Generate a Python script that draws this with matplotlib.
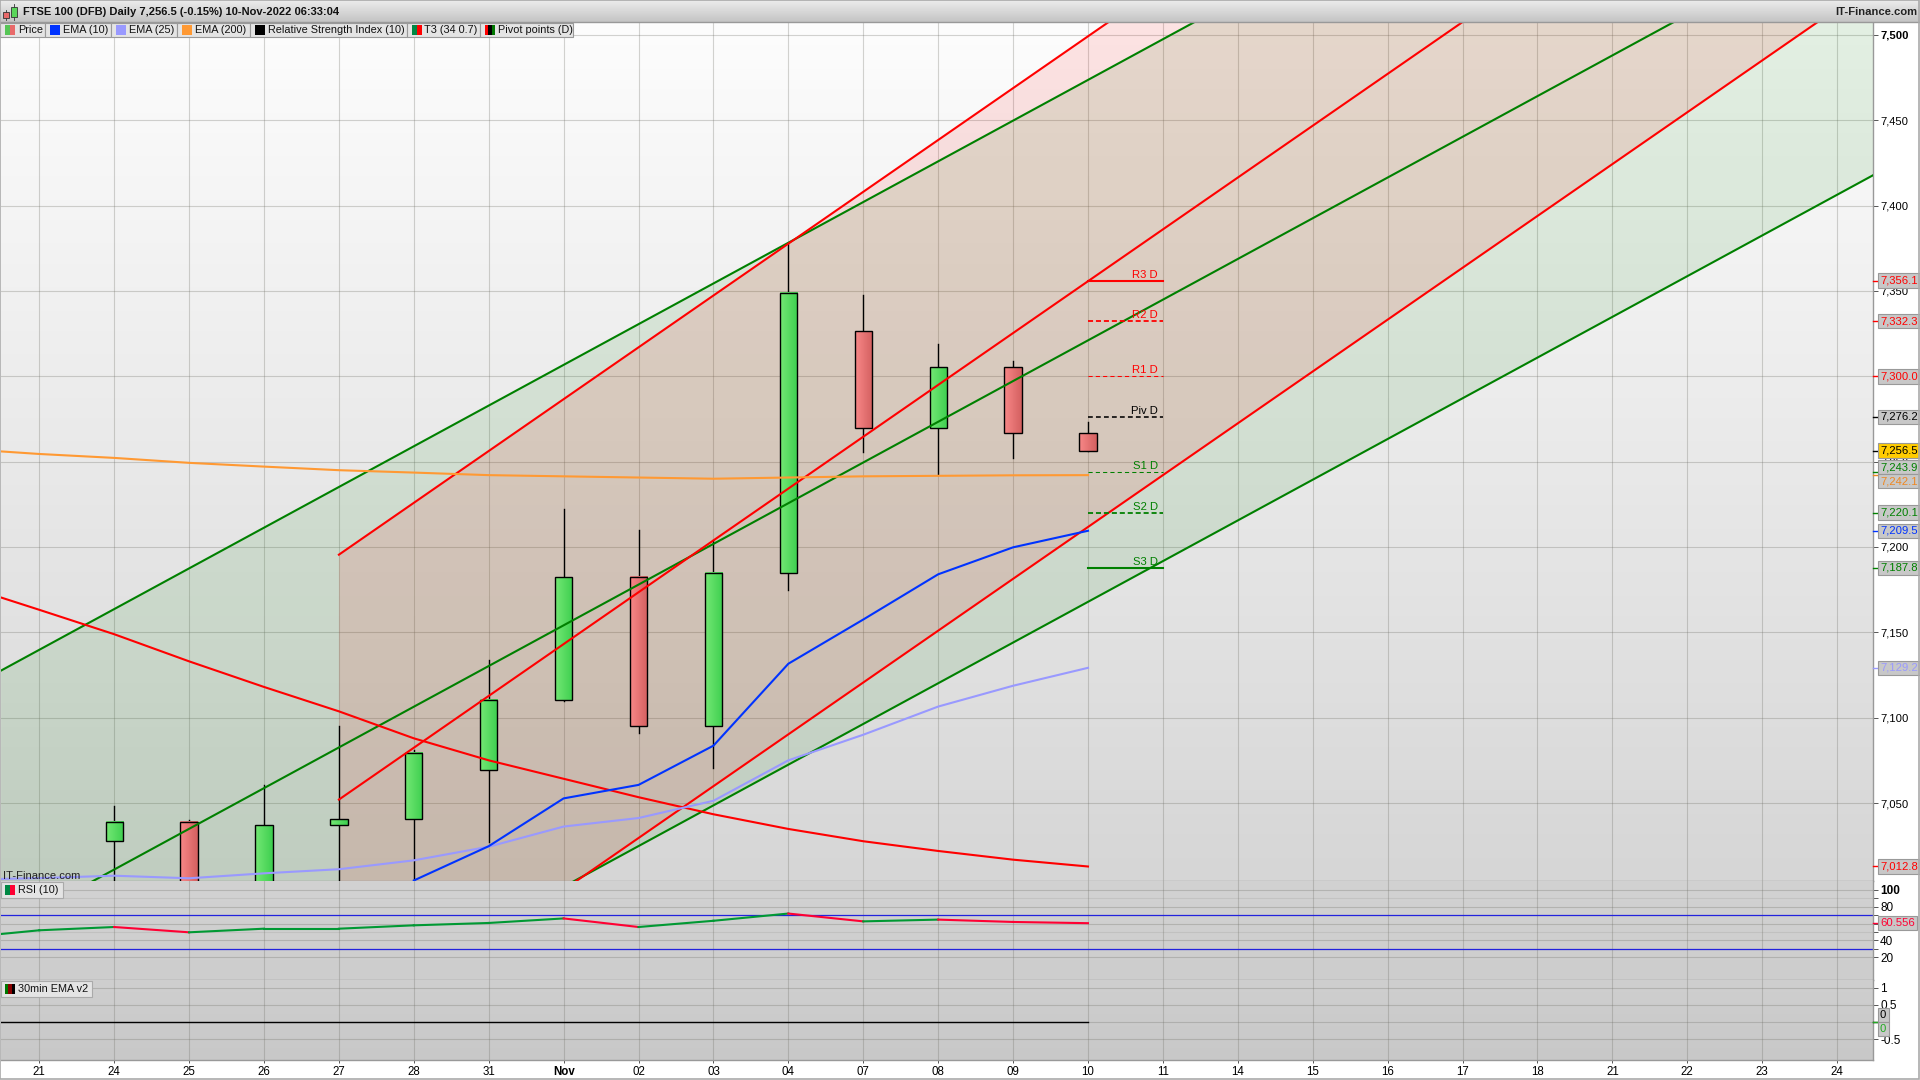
import numpy as np
import matplotlib
matplotlib.use("Agg")
import matplotlib.pyplot as plt
from matplotlib.colors import LinearSegmentedColormap
from matplotlib.patches import Rectangle

plt.rcParams['font.family'] = ['Liberation Sans', 'DejaVu Sans']

# Dates on the x axis
dates = ['21', '24', '25', '26', '27', '28', '31', 'Nov', '02', '03', '04', '07', '08', '09', '10',
         '11', '14', '15', '16', '17', '18', '21', '22', '23', '24']

# Candles (first candle is the "24" slot)
candle_idx = list(range(1, 15))
opens = [7027.7, 7039.0, 6995.0, 7037.0, 7040.5, 7069.3, 7110.4, 7182.4, 7095.0, 7184.8, 7326.8, 7270.0, 7305.3, 7267.0]
closes = [7038.9, 6995.0, 7037.1, 7040.5, 7079.3, 7110.4, 7182.4, 7095.0, 7184.8, 7349.0, 7270.0, 7305.3, 7267.0, 7256.5]
highs = [7048.2, 7040.0, 7060.6, 7095.0, 7081.0, 7133.8, 7222.0, 7210.0, 7204.0, 7378.0, 7347.6, 7319.0, 7309.0, 7273.0]
lows = [6990.0, 6990.0, 6990.0, 6990.0, 6990.0, 7027.0, 7110.0, 7091.0, 7070.5, 7175.0, 7255.7, 7242.0, 7252.0, 7256.5]

# Moving averages
ema10_x = [5, 6, 7, 8, 9, 10, 11, 12, 13, 14]
ema10 = [7004.6, 7024.7, 7052.7, 7060.6, 7083.6, 7131.6, 7157.5, 7184.0, 7199.8, 7209.5]
line_x = [-0.51, 0, 1, 2, 3, 4, 5, 6, 7, 8, 9, 10, 11, 12, 13, 14]
ema25 = [7005.5, 7006.0, 7007.4, 7005.9, 7008.8, 7011.2, 7016.4, 7024.4, 7036.2, 7041.2, 7051.3, 7075.0, 7090.0, 7106.5, 7118.7, 7129.2]
ema200 = [7256.0, 7254.5, 7252.2, 7249.3, 7247.1, 7245.0, 7243.6, 7242.1, 7241.4, 7240.7, 7240.0, 7240.7, 7241.4, 7241.7, 7242.0, 7242.1]
t3 = [7170.4, 7163.2, 7148.9, 7133.0, 7118.0, 7103.7, 7087.9, 7075.0, 7064.2, 7053.4, 7043.4, 7034.8, 7027.6, 7021.9, 7016.8, 7012.8]
rsi = [47.7, 52.1, 56.0, 49.7, 54.0, 54.0, 58.0, 60.8, 66.2, 56.0, 63.4, 72.0, 62.7, 64.8, 62.0, 60.556]

# Channels, end points
green_x = [-0.51, 24.48]
green_up = [7127.6, 7723.6]
green_mid = [6975.0, 7571.0]
green_low = [6821.8, 7417.8]
red_x = [4, 24.48]
red_up = [7195.5, 7817.5]
red_mid = [7052.0, 7674.0]
red_low = [6908.0, 7530.0]

# Pivot points
pivot_names = ['R3 D', 'R2 D', 'R1 D', 'Piv D', 'S1 D', 'S2 D', 'S3 D']
pivot_vals = [7356.1, 7332.3, 7300.0, 7276.2, 7243.9, 7220.1, 7187.8]

price_ticks = [7050, 7100, 7150, 7200, 7250, 7300, 7350, 7400, 7450, 7500]
legend_names = ['Price', 'EMA (10)', 'EMA (25)', 'EMA (200)', 'Relative Strength Index (10)', 'T3 (34 0.7)', 'Pivot points (D)']

GREEN = '#008000'
RED = '#ff0000'
W, H = 1920, 1080
FS = 8.1

fig = plt.figure(figsize=(19.2, 10.8), dpi=100, facecolor='white')


def pane(top, bottom):
    a = fig.add_axes([1 / W, 1 - bottom / H, 1872 / W, (bottom - top) / H])
    for s in a.spines.values():
        s.set_color('#999999')
        s.set_linewidth(1.0)
    a.spines['left'].set_visible(False)
    a.spines['top'].set_visible(False)
    a.yaxis.tick_right()
    a.tick_params(axis='y', length=3.6, width=0.7, pad=1.5, labelsize=FS, color='#555555')
    a.set_xticks(range(len(dates)))
    a.tick_params(axis='x', length=0, labelbottom=False)
    a.grid(True, color='#707068', alpha=0.3, linewidth=0.8, zorder=0)
    a.set_axisbelow(True)
    return a


def gradient(a, c_top, c_bottom):
    cm = LinearSegmentedColormap.from_list('bg', [c_bottom, c_top])
    a.imshow(np.linspace(1, 0, 256).reshape(-1, 1), extent=[0, 1, 0, 1], transform=a.transAxes,
             cmap=cm, aspect='auto', zorder=-5, vmin=0, vmax=1)


def tag(a, val, text, color, face='#c8c8c8', dy=0):
    a.annotate(text, xy=(1, val), xycoords=a.get_yaxis_transform(), xytext=(7, dy),
               textcoords='offset pixels', va='center', ha='left', fontsize=FS, color=color, zorder=20,
               annotation_clip=False,
               bbox=dict(boxstyle='square,pad=0.2', fc=face, ec='#999999', lw=0.8))
    a.plot([1, 1.0028], [val, val], color=color, lw=1, transform=a.get_yaxis_transform(), clip_on=False, zorder=19)


# Price pane
ax = pane(22, 881)
gradient(ax, '#fdfdfd', '#d6d6d6')
ax.fill_between(green_x, green_low, green_up, color=GREEN, alpha=0.1, lw=0, zorder=1)
ax.fill_between(red_x, red_low, red_up, color=RED, alpha=0.1, lw=0, zorder=1)

green_cm = LinearSegmentedColormap.from_list('g', ['#74e874', '#3ecf50'])
red_cm = LinearSegmentedColormap.from_list('r', ['#f88888', '#d46060'])
w = 0.115
for i, o, c, hi, lo in zip(candle_idx, opens, closes, highs, lows):
    ax.plot([i, i], [lo, hi], color='black', lw=1.0, zorder=3)
    cm = green_cm if c >= o else red_cm
    ax.imshow(np.linspace(0, 1, 32).reshape(1, -1), extent=[i - w, i + w, min(o, c), max(o, c)],
              cmap=cm, aspect='auto', zorder=4)
    ax.add_patch(Rectangle((i - w, min(o, c)), 2 * w, abs(c - o), fill=False, ec='black', lw=1.0, zorder=5))

for ys in (green_up, green_mid, green_low):
    ax.plot(green_x, ys, color=GREEN, lw=1.5, zorder=6)
for ys in (red_up, red_mid, red_low):
    ax.plot(red_x, ys, color=RED, lw=1.5, zorder=6)
ax.plot(line_x, t3, color=RED, lw=1.5, zorder=6)
ax.plot(line_x, ema200, color='#ff9933', lw=1.5, zorder=6)
ax.plot(line_x, ema25, color='#9999ff', lw=1.5, zorder=6)
ax.plot(ema10_x, ema10, color='#0033ff', lw=1.5, zorder=6)

piv_cols = [RED, RED, RED, 'black', GREEN, GREEN, GREEN]
piv_lw = [1.5, 1.3, 0.75, 1.15, 0.75, 1.3, 1.5]
piv_ls = ['-', (0, (2.8, 1.6)), (0, (4, 3)), (0, (3, 2)), (0, (4, 3)), (0, (2.8, 1.6)), '-']
for name, v, col, lw, ls in zip(pivot_names, pivot_vals, piv_cols, piv_lw, piv_ls):
    ax.plot([14, 15], [v, v], color=col, lw=lw, ls=ls, zorder=7)
    ax.annotate(name, xy=(15, v), xytext=(-5, 1), textcoords='offset pixels', ha='right', va='bottom',
                fontsize=FS, color=col, zorder=8)

ax.set_xlim(-0.511, 24.48)
ax.set_ylim(7004.3, 7507.6)
ax.set_yticks(price_ticks)
ax.set_yticklabels([f'{t:,}' for t in price_ticks])
ax.get_yticklabels()[-1].set_fontweight('bold')

tag(ax, 7356.1, '7,356.1', RED)
tag(ax, 7332.3, '7,332.3', RED)
tag(ax, 7300.0, '7,300.0', RED)
tag(ax, 7276.2, '7,276.2', 'black')
tag(ax, 7256.5, '7,256.5', 'black', face='#ffcc00')
tag(ax, 7243.9, '7,243.9', GREEN, dy=5)
tag(ax, 7242.1, '7,242.1', '#ee8822', dy=-6)
tag(ax, 7220.1, '7,220.1', GREEN)
tag(ax, 7209.5, '7,209.5', '#0033ff')
tag(ax, 7187.8, '7,187.8', GREEN)
tag(ax, 7129.2, '7,129.2', '#9999ff')
tag(ax, 7012.8, '7,012.8', RED)

# RSI pane
ax2 = pane(881, 980)
gradient(ax2, '#d2d2d2', '#cdcdcd')
ax2.axhline(70, color='#2222dd', lw=0.9, zorder=2)
ax2.axhline(30, color='#2222dd', lw=0.9, zorder=2)
for k in range(len(rsi) - 1):
    col = '#ff0033' if rsi[k + 1] < rsi[k] else '#009933'
    ax2.plot(line_x[k:k + 2], rsi[k:k + 2], color=col, lw=1.5, zorder=3)
ax2.set_xlim(-0.511, 24.48)
ax2.set_ylim(-7, 110.7)
ax2.set_yticks([20, 30, 40, 50, 60, 70, 80, 90, 100])
ax2.set_yticklabels(['20', '', '40', '', '60', '', '80', '', '100'])
ax2.get_yticklabels()[-1].set_fontweight('bold')
ax2.tick_params(axis='y', labelsize=FS + 0.4)
# the 10-step lines are fainter than the labelled ones
for gl in ax2.get_ygridlines()[1::2]:
    gl.set_alpha(0.14)
tag(ax2, 60.556, '60.556', '#ff0033')

# Bottom pane
ax3 = pane(980, 1060)
gradient(ax3, '#cfcfcf', '#c8c8c8')
ax3.plot([-0.511, 14], [0, 0], color='black', lw=1.0, zorder=3)
ax3.set_xlim(-0.511, 24.48)
ax3.set_ylim(-1.10, 1.226)
ax3.set_yticks([-0.5, 0, 0.5, 1])
ax3.set_yticklabels(['-0.5', '', '0.5', '1'])
ax3.tick_params(axis='y', labelsize=FS + 0.4)
ax3.tick_params(axis='x', length=2, width=0.7, labelbottom=True, labelsize=FS + 0.2, pad=2.5, color='#555555')
ax3.set_xticklabels(dates)
ax3.get_xticklabels()[7].set_fontweight('bold')
tag(ax3, 0, '0', 'black', dy=7)
tag(ax3, 0, '0', '#22aa22', dy=-7)

# Window chrome, drawn in pixel coordinates
top = fig.add_axes([0, 0, 1, 1], zorder=30)
top.set_xlim(0, W)
top.set_ylim(H, 0)
top.axis('off')
top.patch.set_alpha(0)
top.imshow(np.linspace(0, 1, 32).reshape(-1, 1), extent=[0, W, 22, 0],
           cmap=LinearSegmentedColormap.from_list('bar', ['#ececec', '#c4c4c4']), aspect='auto', zorder=1)
top.set_xlim(0, W)
top.set_ylim(H, 0)
top.plot([0, W], [22, 22], color='#999999', lw=1)
top.add_patch(Rectangle((0, 0), W - 1, H - 1, fill=False, ec='#aaaaaa', lw=1.2, zorder=9))

top.add_patch(Rectangle((3, 12), 6, 6, fc='#e86a6a', ec='#333333', lw=0.6, zorder=3))
top.plot([6, 6], [10, 20], color='#333333', lw=0.6, zorder=2)
top.add_patch(Rectangle((11, 7), 6, 10, fc='#5ad65a', ec='#333333', lw=0.6, zorder=3))
top.plot([14, 14], [4, 20], color='#333333', lw=0.6, zorder=2)
top.text(23, 12, 'FTSE 100 (DFB) Daily 7,256.5 (-0.15%) 10-Nov-2022 06:33:04', fontsize=7.97,
         fontweight='bold', va='center', ha='left', color='#111111', zorder=3)
top.text(1917, 12, 'IT-Finance.com', fontsize=8.1, fontweight='bold', va='center', ha='right',
         color='#222222', zorder=3)
top.text(3, 876, 'IT-Finance.com', fontsize=FS, va='center', ha='left', color='#222222', zorder=3)

edges = [0, 45, 110.7, 176.8, 249.8, 406.5, 480, 573]
swatches = [['#55c555', '#e86a6a'], ['#0033ff'], ['#9999ff'], ['#ff9933'], ['black'],
            ['#008844', '#ff0000'], ['#ff0000', 'black', '#007700']]
for k, name in enumerate(legend_names):
    l, r = edges[k], edges[k + 1]
    top.add_patch(Rectangle((l, 22.5), r - l, 14.5, fc='#e4e4e4', ec='#999999', lw=0.8, zorder=3))
    n = len(swatches[k])
    for j, c in enumerate(swatches[k]):
        top.add_patch(Rectangle((l + 5 + j * 10 / n, 25), 10 / n, 9.5, fc=c, ec='none', zorder=4))
    top.text(l + 18, 30, name, fontsize=7.85, va='center', ha='left', color='#111111', zorder=4)


def pane_label(y0, width, name, cols):
    top.add_patch(Rectangle((0.5, y0), width, 16, fc='#e4e4e4', ec='#aaaaaa', lw=0.8, zorder=3))
    for j, c in enumerate(cols):
        top.add_patch(Rectangle((5 + j * 10 / len(cols), y0 + 3), 10 / len(cols), 10, fc=c, ec='none', zorder=4))
    top.text(18, y0 + 8, name, fontsize=7.85, va='center', ha='left', color='#111111', zorder=4)


pane_label(882, 62, 'RSI (10)', ['#008844', '#ff0033'])
pane_label(981, 91, '30min EMA v2', ['#007700', '#880000', 'black'])

fig.savefig('out.png', dpi=100)
plt.close(fig)
